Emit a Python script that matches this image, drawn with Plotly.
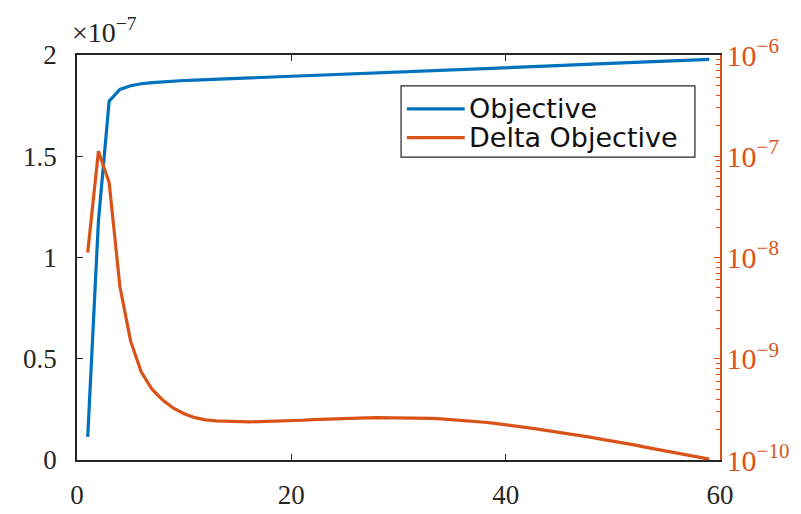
import plotly.graph_objects as go

iterations = list(range(1, 60))

objective = [
    0.114e-7, 1.18e-7, 1.772e-7, 1.830e-7, 1.848e-7, 1.858e-7, 1.864e-7, 1.868e-7, 1.871e-7, 1.874e-7,
    1.876e-7, 1.878e-7, 1.880e-7, 1.882e-7, 1.885e-7, 1.887e-7, 1.889e-7, 1.891e-7, 1.893e-7, 1.895e-7,
    1.897e-7, 1.899e-7, 1.902e-7, 1.904e-7, 1.906e-7, 1.908e-7, 1.910e-7, 1.912e-7, 1.914e-7, 1.916e-7,
    1.919e-7, 1.921e-7, 1.923e-7, 1.925e-7, 1.927e-7, 1.929e-7, 1.931e-7, 1.933e-7, 1.935e-7, 1.938e-7,
    1.940e-7, 1.942e-7, 1.944e-7, 1.946e-7, 1.948e-7, 1.950e-7, 1.952e-7, 1.955e-7, 1.957e-7, 1.959e-7,
    1.961e-7, 1.963e-7, 1.965e-7, 1.967e-7, 1.969e-7, 1.972e-7, 1.974e-7, 1.976e-7, 1.978e-7,
]

delta_objective = [
    1.12e-8, 1.12e-7, 5.5e-8, 5.2e-9, 1.5e-9, 7.4e-10, 5.0e-10, 3.9e-10, 3.25e-10, 2.86e-10,
    2.62e-10, 2.49e-10, 2.43e-10, 2.40e-10, 2.38e-10, 2.38e-10, 2.39e-10, 2.40e-10, 2.42e-10, 2.44e-10,
    2.47e-10, 2.50e-10, 2.53e-10, 2.55e-10, 2.58e-10, 2.60e-10, 2.61e-10, 2.62e-10, 2.62e-10, 2.62e-10,
    2.61e-10, 2.60e-10, 2.58e-10, 2.55e-10, 2.51e-10, 2.47e-10, 2.42e-10, 2.36e-10, 2.30e-10, 2.24e-10,
    2.17e-10, 2.09e-10, 2.02e-10, 1.95e-10, 1.88e-10, 1.81e-10, 1.74e-10, 1.67e-10, 1.60e-10, 1.54e-10,
    1.47e-10, 1.41e-10, 1.34e-10, 1.28e-10, 1.22e-10, 1.17e-10, 1.12e-10, 1.07e-10, 1.02e-10,
]

x_ticks = [0, 20, 40, 60]
left_tick_vals = [0, 0.5e-7, 1.0e-7, 1.5e-7, 2.0e-7]
left_tick_text = ["0", "0.5", "1", "1.5", "2"]
series_names = ["Objective", "Delta Objective"]

BLUE = "#0072BD"
ORANGE = "#D95319"
AXC = "#262626"
SERIF = "Liberation Serif, Times New Roman, serif"
SANS = "DejaVu Sans, sans-serif"

fig = go.Figure()
fig.add_trace(go.Scatter(x=iterations, y=objective, mode="lines", name=series_names[0],
                         line=dict(color=BLUE, width=3.2), yaxis="y", showlegend=False))
fig.add_trace(go.Scatter(x=iterations, y=delta_objective, mode="lines", name=series_names[1],
                         line=dict(color=ORANGE, width=3.2), yaxis="y2", showlegend=False))

fig.update_layout(
    width=801, height=514,
    margin=dict(l=69, r=89, t=47, b=46),
    paper_bgcolor="white", plot_bgcolor="white",
    xaxis=dict(range=[0, 60], tickvals=x_ticks, ticks="inside", ticklen=6, tickwidth=1.2,
               tickcolor=AXC, showline=True, linecolor=AXC, linewidth=1.5, mirror="ticks",
               showgrid=False, zeroline=False, ticklabelstandoff=10,
               tickfont=dict(family=SERIF, size=27, color=AXC)),
    yaxis=dict(range=[0, 2e-7], tickvals=left_tick_vals, ticktext=left_tick_text,
               ticks="inside", ticklen=6, tickwidth=1.2, tickcolor=AXC,
               showline=True, linecolor=AXC, linewidth=1.5, showgrid=False, zeroline=False,
               ticklabelstandoff=13,
               tickfont=dict(family=SERIF, size=27, color=AXC)),
    yaxis2=dict(overlaying="y", side="right", type="log", range=[-10, -6], dtick=1,
                exponentformat="power", ticks="inside", ticklen=6, tickwidth=1.2,
                tickcolor=ORANGE, showline=True, linecolor=ORANGE, linewidth=1.5,
                showgrid=False, zeroline=False, ticklabelstandoff=0,
                minor=dict(ticks="inside", ticklen=4, tickwidth=1, dtick="D1",
                           tickcolor=ORANGE, showgrid=False),
                tickfont=dict(family=SERIF, size=24, color=ORANGE)),
)

# multiplier label
fig.add_annotation(xref="paper", yref="paper", x=0, y=1, xanchor="left", yanchor="bottom",
                   xshift=-7, yshift=5, showarrow=False,
                   text="×10<sup>−7</sup>", font=dict(family=SERIF, size=28, color=AXC))

# custom legend (MATLAB style)
lx0, lx1, ly0, ly1 = 0.504, 0.961, 0.748, 0.924
fig.add_shape(type="rect", xref="paper", yref="paper", x0=lx0, x1=lx1, y0=ly0, y1=ly1,
              line=dict(color=AXC, width=1.2), fillcolor="white", layer="above")
rows = [(0.867, BLUE, series_names[0]), (0.796, ORANGE, series_names[1])]
for yy, col, name in rows:
    fig.add_shape(type="line", xref="paper", yref="paper", x0=0.513, x1=0.603, y0=yy, y1=yy,
                  line=dict(color=col, width=3.2), layer="above")
    fig.add_annotation(xref="paper", yref="paper", x=0.607, y=yy, xanchor="left", yanchor="middle",
                       showarrow=False, text=name, font=dict(family=SANS, size=27, color="#111111"))

fig.write_html("out.html")
